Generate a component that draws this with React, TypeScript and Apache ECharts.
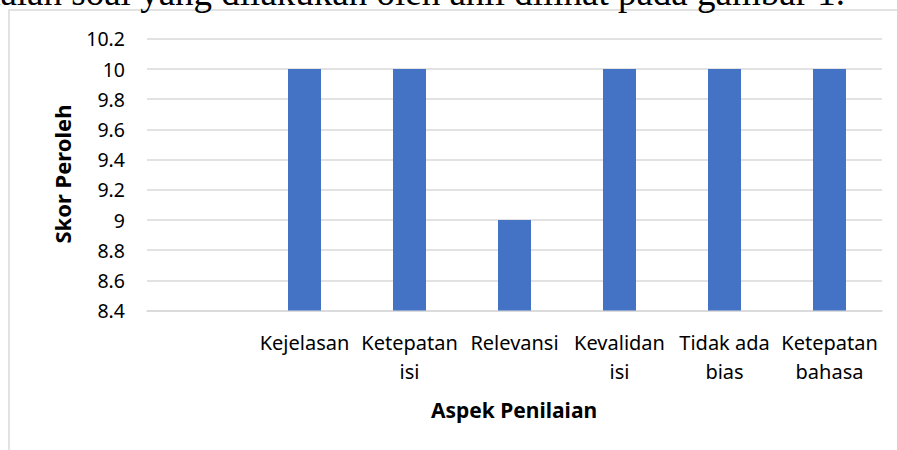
import React, { useEffect, useRef } from "react";
import * as echarts from "echarts";

const categories = ["", "Kejelasan", "Ketepatan\nisi", "Relevansi", "Kevalidan\nisi", "Tidak ada\nbias", "Ketepatan\nbahasa"];
const scores: (number | null)[] = [null, 10, 10, 9, 10, 10, 10];
const yMin = 8.4;
const yMax = 10.2;
const yStep = 0.2;
const xTitle = "Aspek Penilaian";
const yTitle = "Skor Peroleh";
const topLine = "adalah soal yang dilakukan oleh ahli dilihat pada gambar 1.";

const FONT = "'Noto Sans', 'Open Sans', sans-serif";

export default function App() {
  const ref = useRef<HTMLDivElement>(null);
  useEffect(() => {
    if (!ref.current) return;
    const chart = echarts.init(ref.current, null, { renderer: "svg" });
    chart.setOption({
      animation: false,
      backgroundColor: "#ffffff",
      grid: { left: 147, right: 15, top: 38.8, bottom: 139.4, containLabel: false },
      xAxis: {
        type: "category",
        data: categories,
        axisLine: { show: true, lineStyle: { color: "#d9d9d9", width: 1.5 } },
        axisTick: { show: false },
        axisLabel: {
          interval: 0,
          color: "#000000",
          fontFamily: FONT,
          fontSize: 20,
          lineHeight: 29,
          margin: 17,
        },
      },
      yAxis: {
        type: "value",
        min: yMin,
        max: yMax,
        interval: yStep,
        axisLine: { show: false },
        axisTick: { show: false },
        splitLine: { lineStyle: { color: "#d9d9d9", width: 1.5 } },
        axisLabel: {
          color: "#000000",
          fontFamily: FONT,
          fontSize: 19.5,
          margin: 22,
          formatter: (v: number) => String(Number(v.toFixed(1))),
        },
      },
      series: [
        {
          type: "bar",
          data: scores,
          barWidth: 33,
          itemStyle: { color: "#4472c4" },
        },
      ],
      graphic: [
        {
          type: "rect",
          shape: { x: 9, y: 10, width: 1000, height: 1000 },
          style: { fill: "none", stroke: "#d9d9d9", lineWidth: 1.5 },
          silent: true,
          z: -1,
        },
        {
          type: "text",
          x: 845,
          y: 11,
          style: {
            text: topLine,
            fontFamily: "'Liberation Serif', serif",
            fontSize: 37,
            fill: "#000000",
            textAlign: "right",
            textVerticalAlign: "bottom",
          },
        },
        {
          type: "text",
          x: 514,
          y: 410,
          style: {
            text: xTitle,
            fontFamily: FONT,
            fontSize: 21,
            fontWeight: "bold",
            fill: "#000000",
            textAlign: "center",
            textVerticalAlign: "middle",
          },
        },
        {
          type: "text",
          x: 62,
          y: 174,
          rotation: Math.PI / 2,
          style: {
            text: yTitle,
            fontFamily: FONT,
            fontSize: 22,
            fontWeight: "bold",
            fill: "#000000",
            textAlign: "center",
            textVerticalAlign: "middle",
          },
        },
      ],
    });
    return () => chart.dispose();
  }, []);
  return (
    <div
      ref={ref}
      style={{ position: "absolute", left: 0, top: 0, width: 897, height: 450, overflow: "hidden" }}
    />
  );
}
